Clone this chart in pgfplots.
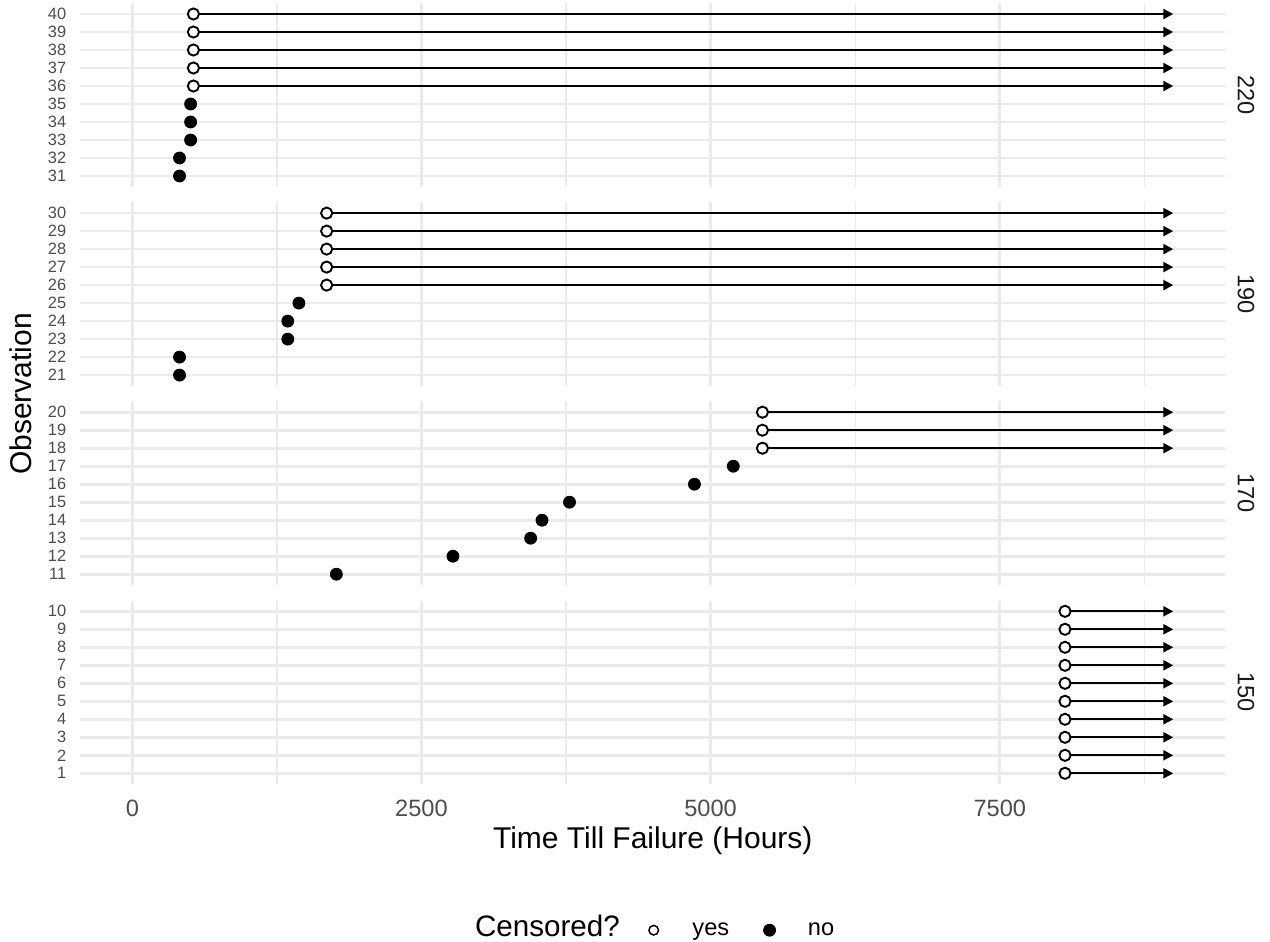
\documentclass[border=0pt]{standalone}
\usepackage{pgfplots}
\pgfplotsset{compat=1.18}
\usepackage{pgfplotstable}
\usepackage{fontspec}
\setmainfont{Liberation Sans}
\usetikzlibrary{arrows.meta}

\definecolor{grey92}{HTML}{EBEBEB}
\definecolor{grey30}{HTML}{4D4D4D}
\definecolor{grey10}{HTML}{1A1A1A}

% motorette data: obs, hours; censored rows get an arrow to 9000 h
\pgfplotstableread{
obs time
31 408
32 408
33 504
34 504
35 504
}\failA
\pgfplotstableread{
obs time len
36 528 8472
37 528 8472
38 528 8472
39 528 8472
40 528 8472
}\cenA
\pgfplotstableread{
obs time
21 408
22 408
23 1344
24 1344
25 1440
}\failB
\pgfplotstableread{
obs time len
26 1680 7320
27 1680 7320
28 1680 7320
29 1680 7320
30 1680 7320
}\cenB
\pgfplotstableread{
obs time
11 1764
12 2772
13 3444
14 3542
15 3780
16 4860
17 5196
}\failC
\pgfplotstableread{
obs time len
18 5448 3552
19 5448 3552
20 5448 3552
}\cenC
\pgfplotstableread{
obs time len
1 8064 936
2 8064 936
3 8064 936
4 8064 936
5 8064 936
6 8064 936
7 8064 936
8 8064 936
9 8064 936
10 8064 936
}\cenD

\pgfplotsset{
  /pgf/number format/assume math mode=true,
  panel/.style={
    scale only axis, width=572.5pt, height=91.8pt,
    xmin=-450, xmax=9450,
    axis line style={draw=none},
    major tick length=0pt, minor tick length=0pt,
    xtick={0,2500,5000,7500},
    minor xtick={1250,3750,6250,8750},
    xticklabels={},
    grid=both,
    major grid style={grey92, line width=1.3pt},
    minor grid style={grey92, line width=0.65pt},
    yticklabel style={font=\fontsize{8.2}{9}\selectfont, text=grey30,
      anchor=east, inner sep=0pt, xshift=-6.85pt},
    clip=false,
  },
  failpt/.style={only marks, mark=*, mark size=3pt, black},
  cenpt/.style={only marks, mark=*, mark size=2.8pt,
    mark options={fill=white, draw=black, line width=0.95pt}},
  cenarrow/.style={quiver={u=\thisrow{len}, v=0}, black, line width=1.15pt,
    -{Triangle[length=5pt,width=5pt]}},
}

\begin{document}
\begin{tikzpicture}
\useasboundingbox (0,0) rectangle (635pt,-471pt);

\begin{axis}[panel, at={(40.15pt,-1.6pt)}, anchor=north west,
  ymin=30.4, ymax=40.6, ytick={31,...,40}]
\addplot[cenarrow] table[x=time, y=obs] {\cenA};
\addplot[failpt] table[x=time, y=obs] {\failA};
\addplot[cenpt] table[x=time, y=obs] {\cenA};
\end{axis}

\begin{axis}[panel, at={(40.15pt,-101.15pt)}, anchor=north west,
  ymin=20.4, ymax=30.6, ytick={21,...,30}]
\addplot[cenarrow] table[x=time, y=obs] {\cenB};
\addplot[failpt] table[x=time, y=obs] {\failB};
\addplot[cenpt] table[x=time, y=obs] {\cenB};
\end{axis}

\begin{axis}[panel, at={(40.15pt,-200.7pt)}, anchor=north west,
  ymin=10.4, ymax=20.6, ytick={11,...,20}]
\addplot[cenarrow] table[x=time, y=obs] {\cenC};
\addplot[failpt] table[x=time, y=obs] {\failC};
\addplot[cenpt] table[x=time, y=obs] {\cenC};
\end{axis}

\begin{axis}[panel, at={(40.15pt,-300.25pt)}, anchor=north west,
  ymin=0.4, ymax=10.6, ytick={1,...,10},
  xticklabels={0,2500,5000,7500},
  xticklabel style={font=\fontsize{11.8}{14}\selectfont, text=grey30,
    anchor=north, inner sep=0pt, yshift=-8pt},
  legend style={at={(axis description cs:0.4949,-0.7958)}, anchor=west,
    draw=none, fill=none, inner sep=0pt, outer sep=0pt,
    legend columns=-1, nodes={inner sep=0pt},
    font=\fontsize{11.8}{14}\selectfont,
    /tikz/every odd column/.append style={column sep=16pt},
    /tikz/every even column/.append style={column sep=17pt}},
  legend image code/.code={\path (0pt,0pt) (6pt,0pt);
    \draw[#1] plot coordinates {(3pt,0pt)};}]
\addplot[cenarrow, forget plot] table[x=time, y=obs] {\cenD};
\addplot[cenpt, forget plot] table[x=time, y=obs] {\cenD};
\addlegendimage{only marks, mark=o, mark size=2.4pt, black, line width=0.75pt}
\addlegendentry{yes}
\addlegendimage{only marks, mark=*, mark size=3pt, black}
\addlegendentry{no}
\end{axis}

\node[rotate=-90, font=\fontsize{11.8}{14}\selectfont, text=grey10] at (623pt,-47.5pt) {220};
\node[rotate=-90, font=\fontsize{11.8}{14}\selectfont, text=grey10] at (623pt,-147.05pt) {190};
\node[rotate=-90, font=\fontsize{11.8}{14}\selectfont, text=grey10] at (623pt,-246.6pt) {170};
\node[rotate=-90, font=\fontsize{11.8}{14}\selectfont, text=grey10] at (623pt,-346.15pt) {150};

\node[rotate=90, font=\fontsize{15}{18}\selectfont] at (10.5pt,-197pt) {Observation};
\node[anchor=base, font=\fontsize{15}{18}\selectfont] at (326.4pt,-424pt) {Time Till Failure (Hours)};
\node[anchor=base west, font=\fontsize{14.8}{18}\selectfont] at (234pt,-468.2pt) {Censored?};
\end{tikzpicture}
\end{document}
